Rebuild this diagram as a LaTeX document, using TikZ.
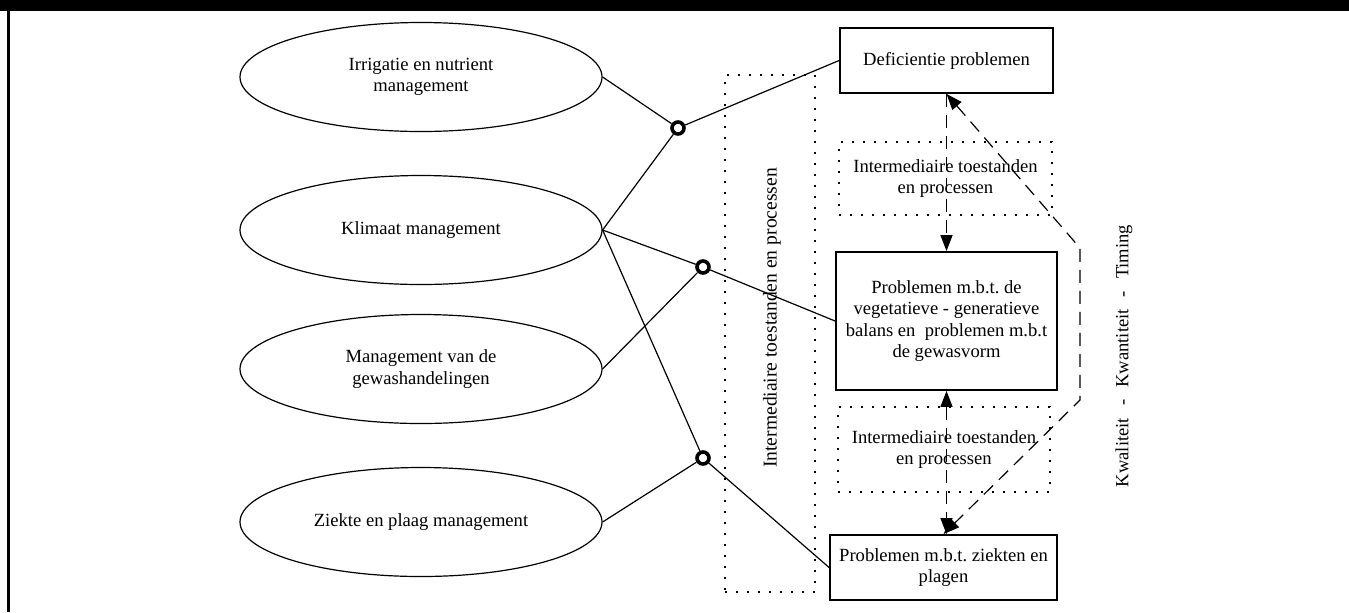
\documentclass[tikz,border=0pt]{standalone}
\usepackage{fontspec}
\setmainfont{Liberation Serif}
\usetikzlibrary{shapes.geometric}
\usetikzlibrary{arrows.meta}

\begin{document}
\frenchspacing
\begin{tikzpicture}[x=0.5pt,y=-0.5pt,
  every node/.style={font=\fontsize{9.3}{10.6}\selectfont,align=center,inner sep=0pt},
  taak/.style={draw,ellipse,line width=0.6pt,minimum width=181pt,minimum height=54.5pt},
  probleem/.style={draw,rectangle,line width=0.9pt},
  tussen/.style={draw,rectangle,line width=1pt,dash pattern=on 0.9pt off 4.6pt},
  knoop/.style={draw,circle,line width=1.8pt,fill=white,minimum size=6pt},
  lijn/.style={line width=0.6pt},
  punt/.tip={Triangle[length=8pt,width=6pt]},
  pijl/.style={line width=0.6pt,dash pattern=on 6.5pt off 4pt,-punt}]
  \useasboundingbox (0,0) rectangle (1349,612);
  \fill (0,0) rectangle (1349,11);
  \draw[line width=1.5pt] (8.5,0) -- (8.5,612);

  \node[taak] (irrig) at (421,77) {Irrigatie en nutrient\\management};
  \node[taak] (klim) at (421,230) {Klimaat management};
  \node[taak] (gewas) at (421,369) {Management van de\\gewashandelingen};
  \node[taak] (ziekte) at (421,522) {Ziekte en plaag management};

  \node[tussen,minimum width=45pt,minimum height=258.5pt] (tussenlang) at (770,333.5) {};
  \node[rotate=90,font=\fontsize{9.8}{11}\selectfont] (tussentekst) at (772,318) {Intermediaire toestanden en processen};

  \node[probleem,minimum width=106.5pt,minimum height=32.5pt] (defic) at (946.5,60.5) {Deficientie problemen};
  \node[tussen,minimum width=106.5pt,minimum height=36.5pt] (tussen1) at (945.5,178.5) {Intermediaire toestanden\\en processen};
  \node[probleem,minimum width=110.5pt,minimum height=69pt] (balans) at (946.5,321) {Problemen m.b.t. de\\vegetatieve - generatieve\\balans en \ problemen m.b.t\\de gewasvorm};
  \node[tussen,minimum width=106pt,minimum height=42.5pt] (tussen2) at (944,449.5) {Intermediaire toestanden\\en processen};
  \node[probleem,minimum width=113.5pt,minimum height=32.5pt] (plagen) at (943.5,567.5) {Problemen m.b.t. ziekten en\\plagen};

  \node[knoop] (ring1) at (678,128) {};
  \node[knoop] (ring2) at (703,267) {};
  \node[knoop] (ring3) at (703,458) {};

  \node[rotate=90] (kwal) at (1124,356) {Kwaliteit\hspace{6pt}-\hspace{6pt}Kwantiteit\hspace{6pt}-\hspace{6pt}Timing};

  \coordinate (kq1) at (1080,248);
  \coordinate (kq2) at (1080,400);

  \draw[lijn] (irrig.east) -- (ring1) -- (defic.west);
  \draw[lijn] (klim.east) -- (ring1);
  \draw[lijn] (klim.east) -- (ring2) -- (balans.west);
  \draw[lijn] (gewas.east) -- (ring2);
  \draw[lijn] (klim.east) -- (ring3) -- (plagen.west);
  \draw[lijn] (ziekte.east) -- (ring3);

  \draw[pijl] (defic.south) -- (balans.north);
  \draw[pijl,punt-punt] (balans.south) -- (balans.south |- plagen.north);
  \draw[pijl,punt-punt] (defic.south) -- (kq1) -- (kq2) -- (plagen.north);
\end{tikzpicture}
\end{document}
